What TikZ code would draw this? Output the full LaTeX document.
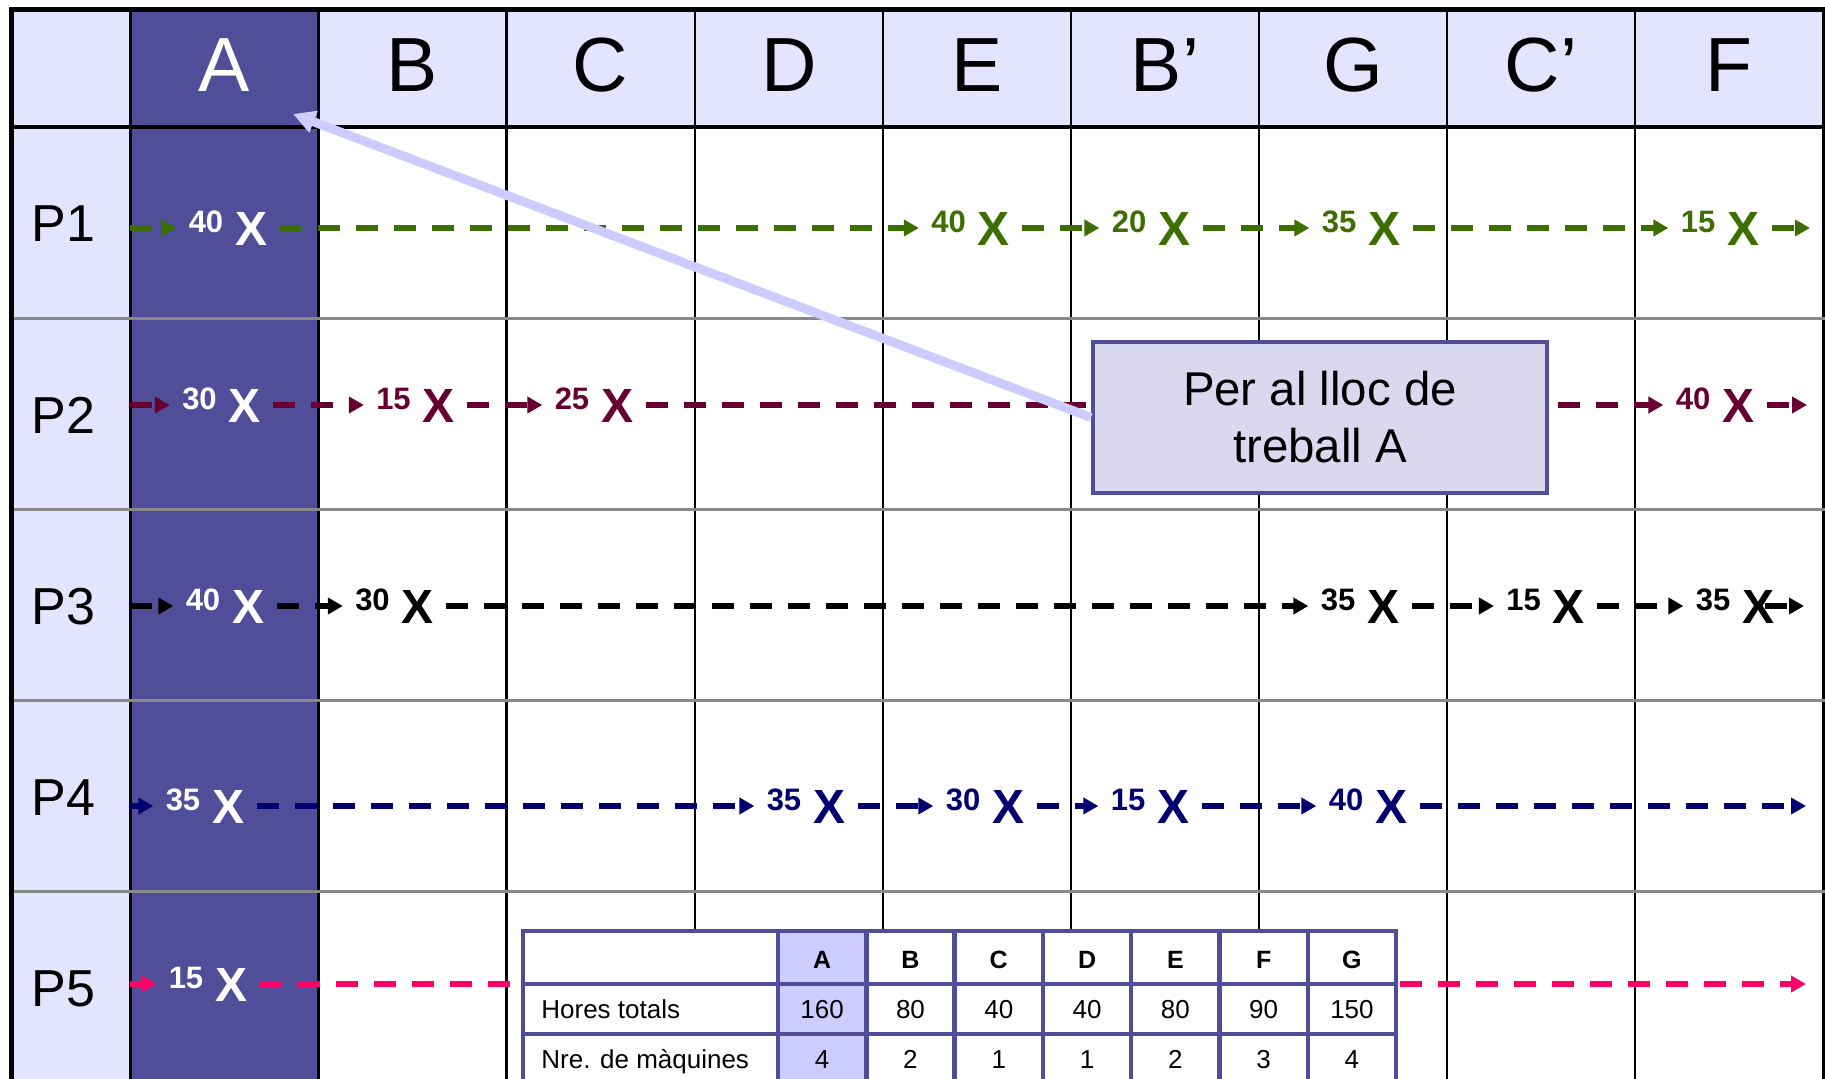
\documentclass[tikz,border=0pt]{standalone}
\usepackage{fontspec}
\setmainfont{Liberation Sans}
\usetikzlibrary{arrows.meta, positioning}
\definecolor{colA}{RGB}{80,78,152}
\definecolor{hdrfill}{RGB}{228,228,255}
\definecolor{notefill}{RGB}{218,216,238}
\definecolor{pointer}{RGB}{204,204,255}
\definecolor{tabA}{RGB}{204,204,255}
\definecolor{gridgray}{RGB}{136,136,136}
\definecolor{p1col}{RGB}{60,110,0}
\definecolor{p2col}{RGB}{102,0,51}
\definecolor{p3col}{RGB}{0,0,0}
\definecolor{p4col}{RGB}{0,0,110}
\definecolor{p5col}{RGB}{255,0,102}
\newcommand{\qx}[1]{\raisebox{6.5pt}{\fontsize{15.5}{15.5}\selectfont #1}\hspace{6pt}X}
\tikzset{
  hdr/.style={anchor=base,inner sep=0pt,font=\fontsize{38.4}{40}\selectfont},
  plbl/.style={anchor=base west,inner sep=0pt,font=\fontsize{26}{28}\selectfont},
  xmk/.style={inner ysep=0pt,inner xsep=6pt,font=\fontsize{24}{24}\selectfont\bfseries},
  flow/.style={line width=3pt,dash pattern=on 11pt off 8pt,-{Triangle[length=7.5pt,width=8pt]}},
  vline/.style={line width=1.2pt},
  hline/.style={line width=1.4pt,draw=gridgray},
  note/.style={rectangle,draw=colA,line width=2pt,fill=notefill,minimum width=227pt,minimum height=75.5pt,align=center,font=\fontsize{23.7}{28.5}\selectfont},
  ptr/.style={draw=pointer,line width=4.5pt,-{Triangle[length=11pt,width=11pt]}},
  tline/.style={draw=colA,line width=2.25pt},
  tcell/.style={anchor=base,inner sep=0pt,font=\fontsize{13}{13}\selectfont},
  thdr/.style={tcell,font=\fontsize{12.5}{13}\selectfont\bfseries}
}

\begin{document}
\begin{tikzpicture}[x=0.5pt,y=-0.5pt]
  \useasboundingbox (0,0) rectangle (1825,1079);

  % grid
  \fill[hdrfill] (11,9) rectangle (1825,127);
  \fill[hdrfill] (11,127) rectangle (130.4,1090);
  \fill[colA] (130.4,9) rectangle (319.2,1090);
  \foreach \i in {0,...,9}
    \draw[vline] ({130.4+188.1*\i},9) -- ({130.4+188.1*\i},1090);
  \foreach \y in {318.2,509.4,700.6,891.8}
    \draw[hline] (11,\y) -- (1825,\y);
  \draw[line width=2pt] (11,127) -- (1825,127);
  \draw[line width=2.5pt] (11,1090) -- (11,9.5) -- (1825,9.5);

  \node[hdr,text=white] (hA) at (224.5,92) {A};
  \foreach \t/\n [count=\i] in {B/hB,C/hC,D/hD,E/hE,B’/hBb,G/hG,C’/hCc,F/hF}
    \node[hdr] (\n) at ({224.5+188.1*\i},92) {\t};
  \foreach \k in {1,...,5}
    \node[plbl] (p\k) at (31,{242+191.2*(\k-1)}) {P\k};

  % P1
  \coordinate (p1s) at (130.4,228);
  \node[xmk,text=white] (p1a) at (228,228) {\qx{40}};
  \node[xmk,text=p1col] (p1e) at (970.5,228) {\qx{40}};
  \node[xmk,text=p1col] (p1bb) at (1151,228) {\qx{20}};
  \node[xmk,text=p1col] (p1g) at (1361,228) {\qx{35}};
  \node[xmk,text=p1col] (p1f) at (1720,228) {\qx{15}};
  \coordinate (p1t) at (1810,228);
  \foreach \s/\t in {p1s/p1a,p1a/p1e,p1e/p1bb,p1bb/p1g,p1g/p1f,p1f/p1t}
    \draw[flow,p1col] (\s) -- (\t);

  % P2
  \coordinate (p2s) at (130.4,405);
  \node[xmk,text=white] (p2a) at (221.5,405) {\qx{30}};
  \node[xmk,text=p2col] (p2b) at (415.5,405) {\qx{15}};
  \node[xmk,text=p2col] (p2c) at (594,405) {\qx{25}};
  \node[xmk,text=p2col] (p2f) at (1715,405) {\qx{40}};
  \coordinate (p2t) at (1807,405);
  \foreach \s/\t in {p2s/p2a,p2a/p2b,p2b/p2c,p2c/p2f,p2f/p2t}
    \draw[flow,p2col] (\s) -- (\t);

  % P3
  \coordinate (p3s) at (130.4,606);
  \node[xmk,text=white] (p3a) at (225,606) {\qx{40}};
  \node[xmk,text=p3col] (p3b) at (394.5,606) {\qx{30}};
  \node[xmk,text=p3col] (p3g) at (1360,606) {\qx{35}};
  \node[xmk,text=p3col] (p3cc) at (1545.6,606) {\qx{15}};
  \node[xmk,text=p3col] (p3f) at (1735,606) {\qx{35}};
  \coordinate (p3t) at (1804,606);
  \foreach \s/\t in {p3s/p3a,p3a/p3b,p3b/p3g,p3g/p3cc,p3cc/p3f}
    \draw[flow,p3col] (\s) -- (\t);
  \draw[flow,p3col,shorten <=-11pt] (p3f) -- (p3t);

  % P4
  \coordinate (p4s) at (130.4,806);
  \node[xmk,text=white] (p4a) at (205,806) {\qx{35}};
  \node[xmk,text=p4col] (p4d) at (806,806) {\qx{35}};
  \node[xmk,text=p4col] (p4e) at (985,806) {\qx{30}};
  \node[xmk,text=p4col] (p4bb) at (1150,806) {\qx{15}};
  \node[xmk,text=p4col] (p4g) at (1368,806) {\qx{40}};
  \coordinate (p4t) at (1806,806);
  \foreach \s/\t in {p4s/p4a,p4a/p4d,p4d/p4e,p4e/p4bb,p4bb/p4g,p4g/p4t}
    \draw[flow,p4col] (\s) -- (\t);

  % P5
  \coordinate (p5s) at (130.4,984);
  \node[xmk,text=white] (p5a) at (208,984) {\qx{15}};
  \coordinate (p5t) at (1806,984);
  \foreach \s/\t in {p5s/p5a,p5a/p5t}
    \draw[flow,p5col] (\s) -- (\t);

  % callout
  \node[note] (note) at (1320,417.5) {Per al lloc de\\treball A};
  \coordinate (tipA) at (293,114);
  \draw[ptr] (note.west) -- (tipA);

  % table
  \fill[white] (523,931) rectangle (1396,1090);
  \fill[tabA] (778,931) rectangle (866.3,1090);
  \foreach \j in {0,...,6}
    \draw[tline] ({778+88.3*\j},931) -- ({778+88.3*\j},1090);
  \foreach \y in {984,1034,1086}
    \draw[tline] (523,\y) -- (1396,\y);
  \draw[tline] (523,1090) -- (523,931) -- (1396,931) -- (1396,1090);
  \foreach \t/\h/\m [count=\j] in {A/160/4,B/80/2,C/40/1,D/40/1,E/80/2,F/90/3,G/150/4} {
    \node[thdr] (t\t) at ({778+88.3*(\j-0.5)},968) {\t};
    \node[tcell] (th\t) at ({778+88.3*(\j-0.5)},1018) {\h};
    \node[tcell] (tm\t) at ({778+88.3*(\j-0.5)},1068) {\m};
  }
  \node[tcell,anchor=base west] (thrs) at (541,1018) {Hores totals};
  \node[tcell,anchor=base west] (tnre) at (541,1068) {Nre. de màquines};
\end{tikzpicture}
\end{document}
